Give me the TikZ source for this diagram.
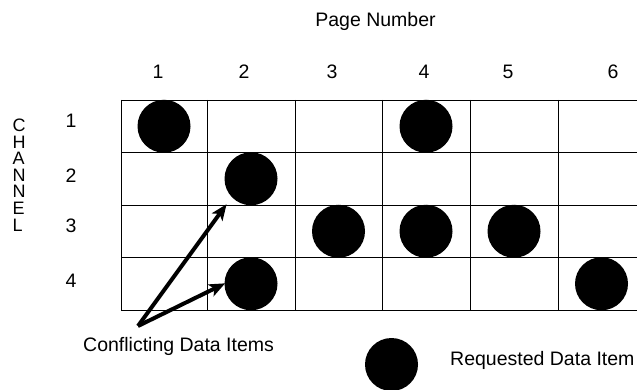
\documentclass[tikz,border=0pt]{standalone}
\usepackage{fontspec}
\setmainfont{Liberation Sans}
\usetikzlibrary{arrows.meta}

\begin{document}
\begin{tikzpicture}[x=1pt,y=-1pt,
  gridline/.style={line width=0.9pt,black},
  dot/.style={circle,fill=black,draw=none,inner sep=0pt,minimum size=53pt},
  lbl/.style={font=\fontsize{19.5}{22}\selectfont,inner sep=0pt},
  letter/.style={font=\fontsize{18}{18}\selectfont,inner sep=0pt,anchor=base west},
  pointer/.style={line width=4pt,-{Stealth[length=16pt,width=13pt,inset=4pt]},shorten >=-1pt}
]
\useasboundingbox (0,0) rectangle (637,390);

% grid of channels (rows) and pages (columns)
\foreach \y in {100,152.5,205,257.5,310}
  \draw[gridline] (121,\y) -- (637,\y);
\foreach \x in {121,207,295,382,470,558}
  \draw[gridline] (\x,100) -- (\x,310);

% axis titles
\node[lbl,anchor=base] (title) at (375.5,27) {Page Number};
\foreach \t [count=\i] in {C,H,A,N,N,E,L}
  \node[letter] (chan\i) at (12.5,{132+16.5*(\i-1)}) {\t};

% page numbers
\foreach \x/\t [count=\i] in {158/1,244/2,332/3,424/4,508/5,613/6}
  \node[lbl,anchor=base] (p\i) at (\x,79) {\t};

% channel numbers
\foreach \y/\t [count=\i] in {128/1,183/2,233/3,287/4}
  \node[lbl,anchor=base] (ch\i) at (71,\y) {\t};

% requested data items
\node[dot] (c11) at (164,126.25) {};
\node[dot] (c41) at (426,126.25) {};
\node[dot] (c22) at (251,178.75) {};
\node[dot] (c33) at (338.5,231.25) {};
\node[dot] (c43) at (426,231.25) {};
\node[dot] (c53) at (514,231.25) {};
\node[dot] (c24) at (251,283.75) {};
\node[dot] (c64) at (601.5,283.75) {};

% conflicting items pointers
\coordinate (tail) at (138,326);
\coordinate (tip1) at (226,205);
\draw[pointer] (tail) -- (tip1);
\draw[pointer] (tail) -- (c24.west);
\node[lbl,anchor=base west] (conf) at (83,351) {Conflicting Data Items};

% legend
\node[dot] (legend) at (391.5,364.5) {};
\node[lbl,anchor=base west] (req) at (450,365) {Requested Data Item};
\end{tikzpicture}
\end{document}
